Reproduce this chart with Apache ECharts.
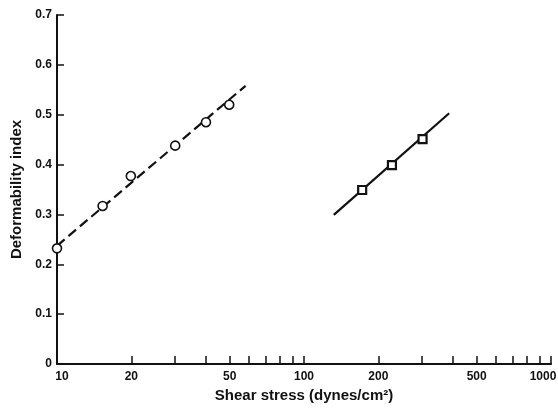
<!DOCTYPE html>
<html>
<head>
<meta charset="utf-8">
<script src="https://cdn.jsdelivr.net/npm/echarts@6/dist/echarts.min.js"></script>
<style>html,body{margin:0;padding:0;background:#fff;}#c{width:558px;height:408px;}</style>
</head>
<body>
<div id="c"></div>
<script>
// Data
var circleX = [10, 15.3, 19.9, 30.1, 40.1, 49.8];
var circleY = [0.232, 0.317, 0.377, 0.438, 0.485, 0.52];
var dashedFitX = [10, 58];
var dashedFitY = [0.237, 0.558];
var squareX = [172, 227, 302];
var squareY = [0.349, 0.399, 0.451];
var solidFitX = [132, 387];
var solidFitY = [0.299, 0.503];
var xTickValues = [20, 30, 40, 50, 60, 70, 80, 90, 100, 200, 300, 400, 500, 600, 700, 800, 900, 1000];
var xLabelValues = [10, 20, 50, 100, 200, 500, 1000];

function pairs(xs, ys) { return xs.map(function (x, i) { return [x, ys[i]]; }); }

var font = 'Liberation Sans, Arial, sans-serif';
var lblStyle = { fontFamily: font, fontWeight: 'bold', fontSize: 12, color: '#111' };
var chart = echarts.init(document.getElementById('c'));
chart.setOption({
  animation: false,
  backgroundColor: '#fff',
  grid: { left: 57, right: 7, top: 15, bottom: 44, containLabel: false, outerBoundsMode: 'none' },
  xAxis: {
    type: 'log', logBase: 10, min: 10, max: 1000,
    name: 'Shear stress (dynes/cm²)', nameLocation: 'middle', nameGap: 24,
    nameTextStyle: { fontFamily: font, fontWeight: 'bold', fontSize: 15, color: '#111' },
    axisLine: { lineStyle: { color: '#111', width: 2 } },
    axisTick: { inside: true, length: 8, lineStyle: { color: '#111', width: 1.5 }, customValues: xTickValues },
    axisLabel: { fontFamily: font, fontWeight: 'bold', fontSize: 12, color: '#111', margin: 7, customValues: xLabelValues,
      showMinLabel: true, showMaxLabel: true,
      formatter: function (v) {
        if (v === 10) return '{l|10}';
        if (v === 1000) return '{r|1000}';
        return String(v);
      },
      rich: {
        l: Object.assign({ padding: [0, 0, 0, 10] }, lblStyle),
        r: Object.assign({ padding: [0, 16, 0, 0] }, lblStyle)
      }
    },
    minorTick: { show: false },
    splitLine: { show: false }
  },
  yAxis: {
    type: 'value', min: 0, max: 0.7, interval: 0.1,
    name: 'Deformability index', nameLocation: 'middle', nameGap: 31,
    nameTextStyle: { fontFamily: font, fontWeight: 'bold', fontSize: 15, color: '#111' },
    axisLine: { show: true, lineStyle: { color: '#111', width: 2 } },
    axisTick: { show: true, inside: true, length: 7, lineStyle: { color: '#111', width: 1.5 } },
    axisLabel: { fontFamily: font, fontWeight: 'bold', fontSize: 12, color: '#111', margin: 5,
      formatter: function (v) { return v === 0 ? '0' : v.toFixed(1); } },
    splitLine: { show: false }
  },
  series: [
    { type: 'line', data: pairs(dashedFitX, dashedFitY), symbol: 'none', z: 2,
      lineStyle: { color: '#111', width: 2.2, type: [10, 5] } },
    { type: 'line', data: pairs(solidFitX, solidFitY), symbol: 'none', z: 2,
      lineStyle: { color: '#111', width: 2.2 } },
    { type: 'scatter', data: pairs(circleX, circleY), symbol: 'circle', symbolSize: 9, z: 5,
      itemStyle: { color: '#fff', borderColor: '#111', borderWidth: 1.6, opacity: 1 } },
    { type: 'scatter', data: pairs(squareX, squareY), symbol: 'rect', symbolSize: 8, z: 5,
      itemStyle: { color: '#fff', borderColor: '#111', borderWidth: 2.2, opacity: 1 } }
  ]
});
</script>
</body>
</html>
